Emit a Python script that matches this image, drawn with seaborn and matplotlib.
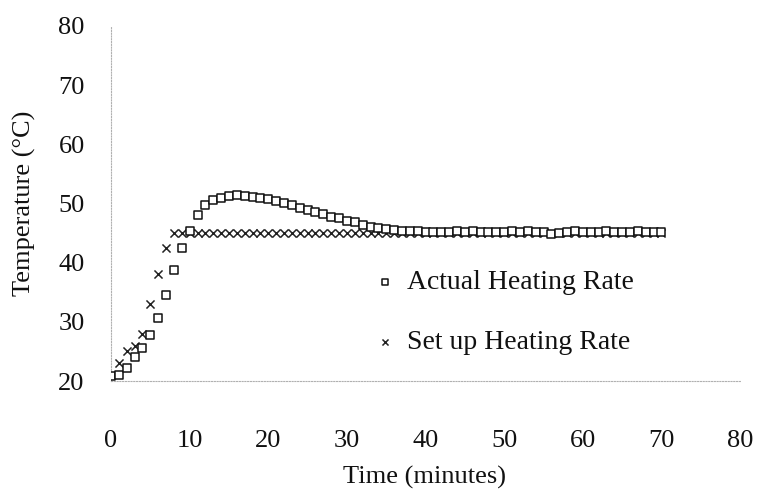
import numpy as np
import pandas as pd
import matplotlib
matplotlib.use("Agg")
import matplotlib.pyplot as plt
import seaborn as sns

# Sampling times (minutes)
time_min = list(range(0, 71))

# Measured temperature (°C)
actual_temp = [
    20.8, 21.0, 22.2, 24.0, 25.6, 27.8, 30.7, 34.6, 38.8, 42.5,
    45.4, 48.1, 49.7, 50.6, 51.0, 51.3, 51.5, 51.3, 51.1, 50.9,
    50.7, 50.4, 50.1, 49.7, 49.3, 48.9, 48.6, 48.2, 47.8, 47.5,
    47.1, 46.8, 46.4, 46.1, 45.9, 45.7, 45.6, 45.4, 45.3, 45.3,
    45.2, 45.2, 45.1, 45.2, 45.3, 45.2, 45.3, 45.2, 45.1, 45.2,
    45.2, 45.3, 45.2, 45.3, 45.2, 45.1, 44.9, 45.0, 45.2, 45.3,
    45.2, 45.1, 45.2, 45.3, 45.2, 45.1, 45.2, 45.3, 45.2, 45.1,
    45.2,
]

# Programmed set-point temperature (°C)
setup_temp = [21.0, 23.0, 25.0, 26.0, 28.0, 33.0, 38.0, 42.5] + [45.0] * 63

x_ticks = [0, 10, 20, 30, 40, 50, 60, 70, 80]
y_ticks = [20, 30, 40, 50, 60, 70, 80]

sns.set_theme(style="white")
plt.rcParams["font.family"] = ["Liberation Serif", "DejaVu Serif"]

df_actual = pd.DataFrame({"t": time_min, "T": actual_temp})
df_setup = pd.DataFrame({"t": time_min, "T": setup_temp})

FS = 19

fig = plt.figure(figsize=(7.63, 4.95), dpi=100)
ax = fig.add_axes([0.1455, 0.2303, 0.8245, 0.7172])

sns.scatterplot(data=df_setup, x="t", y="T", ax=ax, marker="x", s=34,
                color="#222222", linewidth=1.1, label="Set up Heating Rate",
                zorder=3)
sns.scatterplot(data=df_actual, x="t", y="T", ax=ax, marker="s", s=36,
                facecolor="white", edgecolor="#111111", linewidth=1.1,
                label="Actual Heating Rate", zorder=4)

ax.set_xlim(0, 80)
ax.set_ylim(20, 80)
ax.set_xticks(x_ticks)
ax.set_yticks(y_ticks)
ax.tick_params(axis="both", labelsize=FS, colors="#aaaaaa", length=3,
               width=0.6, direction="in", labelcolor="#111111")
ax.tick_params(axis="x", pad=35)
ax.tick_params(axis="y", pad=19)

for side in ("top", "right"):
    ax.spines[side].set_visible(False)
for side in ("left", "bottom"):
    ax.spines[side].set_color("#b0b0b0")
    ax.spines[side].set_linewidth(0.8)
    ax.spines[side].set_linestyle((0, (1, 1.5)))

ax.set_xlabel("Time (minutes)", fontsize=FS, color="#111111")
ax.set_ylabel("Temperature (°C)", fontsize=FS, color="#111111")
ax.xaxis.label.set_verticalalignment("center")
ax.xaxis.set_label_coords(0.499, -0.273)
ax.yaxis.label.set_verticalalignment("center")
ax.yaxis.set_label_coords(-0.137, 0.5)

handles, labels = ax.get_legend_handles_labels()
order = [labels.index("Actual Heating Rate"), labels.index("Set up Heating Rate")]
leg = ax.legend([handles[i] for i in order], [labels[i] for i in order],
                loc="center left", bbox_to_anchor=(0.373, 0.193), frameon=False,
                fontsize=20, markerscale=0.75, handletextpad=0.3,
                labelspacing=1.25, handlelength=1.0)
for txt in leg.get_texts():
    txt.set_color("#111111")

fig.savefig("out.png", dpi=100, facecolor="white")
